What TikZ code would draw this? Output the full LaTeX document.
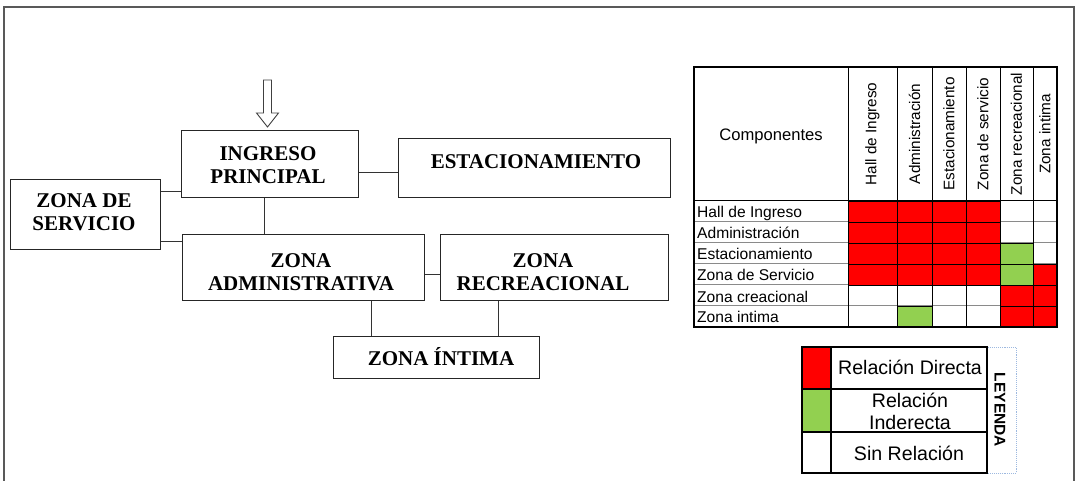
\documentclass[tikz,border=0pt]{standalone}
\usepackage{fontspec}
\setmainfont{Liberation Serif}
\newfontfamily\arialf{Liberation Sans}
\definecolor{relred}{HTML}{FF0000}
\definecolor{relgreen}{HTML}{92D050}
\definecolor{gridgray}{HTML}{8A8A8A}
\definecolor{legblue}{HTML}{9DB9E0}
\begin{document}
\begin{tikzpicture}[x=1pt,y=-1pt,
  box/.style={draw=black!85, line width=1pt, inner sep=0pt},
  lbl/.style={inner sep=0pt, align=center, font=\bfseries\fontsize{21}{23}\selectfont},
  link/.style={draw=black!80, line width=1pt},
  rowlbl/.style={inner sep=0pt, anchor=base west, font=\arialf\fontsize{15.6}{17}\selectfont},
  collbl/.style={inner sep=0pt, rotate=90, font=\arialf\fontsize{15.3}{17}\selectfont},
  leglbl/.style={inner sep=0pt, align=center, font=\arialf\fontsize{19.6}{22}\selectfont},
  cell/.style={draw=black, line width=0.8pt}
]
\useasboundingbox (0,0) rectangle (1077,481);
\fill[white] (0,0) rectangle (1077,481);
% outer frame
\draw[black!65, line width=1.2pt] (4,481) -- (4,7) -- (1074,7) -- (1074,481);

% ---------- flow diagram ----------
\node[box, minimum width=177, minimum height=67] (ingreso) at (269.5,164.5) {};
\node[lbl] (ingresoT) at (268,165.5) {INGRESO\\PRINCIPAL};
\node[box, minimum width=272, minimum height=59] (estac) at (534,168.5) {};
\node[lbl, anchor=base] (estacT) at (536,169) {ESTACIONAMIENTO};
\node[box, minimum width=150, minimum height=70] (servicio) at (85,215) {};
\node[lbl] (servicioT) at (84,212) {ZONA DE\\SERVICIO};
\node[box, minimum width=242, minimum height=66] (admin) at (303,268) {};
\node[lbl] (adminT) at (301,272) {ZONA\\ADMINISTRATIVA};
\node[box, minimum width=228, minimum height=66] (recre) at (554,268) {};
\node[lbl] (recreT) at (543,272) {ZONA\\RECREACIONAL};
\node[box, minimum width=206, minimum height=42] (intima) at (436,357) {};
\node[lbl, anchor=base] (intimaT) at (441,365) {ZONA ÍNTIMA};

% hollow entry arrow
\coordinate (arrtip) at (267.5,127);
\draw[black!75, line width=0.9pt, fill=white]
  (263.5,80) -- (271.5,80) -- (271.5,113) -- (278.5,113) -- (arrtip)
  -- (256.5,113) -- (263.5,113) -- cycle;

% connectors
\draw[link] (ingreso.east |- 0,173) -- (estac.west |- 0,173);
\draw[link] (servicio.east |- 0,192) -- (ingreso.west |- 0,192);
\draw[link] (servicio.east |- 0,242) -- (admin.west |- 0,242);
\draw[link] (ingreso.south -| 264,0) -- (admin.north -| 264,0);
\draw[link] (admin.east |- 0,275) -- (recre.west |- 0,275);
\draw[link] (admin.south -| 371,0) -- (intima.north -| 371,0);
\draw[link] (recre.south -| 498,0) -- (intima.north -| 498,0);

% ---------- relation matrix ----------
\def\colx{{694,848,897,932,966,1000,1033,1057}}
% horizontal grid (gray)
\foreach \r in {1,...,5} {
  \draw[gridgray, line width=1pt] (694,201+21*\r) -- (1057,201+21*\r);
}
% coloured cells: row, col, colour
\foreach \r/\c/\col in {
  0/1/relred,0/2/relred,0/3/relred,0/4/relred,
  1/1/relred,1/2/relred,1/3/relred,1/4/relred,
  2/1/relred,2/2/relred,2/3/relred,2/4/relred,2/5/relgreen,
  3/1/relred,3/2/relred,3/3/relred,3/4/relred,3/5/relgreen,3/6/relred,
  4/5/relred,4/6/relred,
  5/2/relgreen,5/5/relred,5/6/relred} {
  \pgfmathsetmacro{\xa}{\colx[\c]}
  \pgfmathsetmacro{\xb}{\colx[\c+1]}
  \fill[\col] (\xa,201+21*\r) rectangle (\xb,222+21*\r);
  \draw[cell] (\xa,201+21*\r) rectangle (\xb,222+21*\r);
}
% vertical lines
\foreach \x in {848,897,932,966,1000,1033} {
  \draw[black, line width=1pt] (\x,67) -- (\x,327);
}
\draw[black, line width=1pt] (694,201) -- (1057,201);
\draw[black, line width=1.6pt] (694,67) rectangle (1057,327);

\node[inner sep=0pt, font=\arialf\fontsize{16.6}{18}\selectfont] (comp) at (771,136) {Componentes};
\node[collbl] (h1) at (872.5,134) {Hall de Ingreso};
\node[collbl] (h2) at (914.5,134) {Administración};
\node[collbl] (h3) at (949,134) {Estacionamiento};
\node[collbl] (h4) at (983,134) {Zona de servicio};
\node[collbl] (h5) at (1016.5,134) {Zona recreacional};
\node[collbl] (h6) at (1045,134) {Zona intima};

\node[rowlbl] (r1) at (697,218) {Hall de Ingreso};
\node[rowlbl] (r2) at (697,239) {Administración};
\node[rowlbl] (r3) at (697,260) {Estacionamiento};
\node[rowlbl] (r4) at (697,281) {Zona de Servicio};
\node[rowlbl] (r5) at (697,302) {Zona creacional};
\node[rowlbl] (r6) at (697,323) {Zona intima};

% ---------- legend ----------
\draw[legblue, line width=0.9pt, densely dotted] (987,347) rectangle (1016,473);
\fill[relred] (802,347) rectangle (831,389);
\fill[relgreen] (802,389) rectangle (831,432);
\draw[black, line width=1.2pt] (802,347) rectangle (987,473);
\draw[black, line width=1.2pt] (831,347) -- (831,473);
\draw[black, line width=1.2pt] (802,389) -- (987,389);
\draw[black, line width=1.2pt] (802,432) -- (987,432);
\node[leglbl, anchor=base] (l1) at (910,374) {Relación Directa};
\node[leglbl, anchor=base] (l2a) at (910,407) {Relación};
\node[leglbl, anchor=base] (l2b) at (910,429) {Inderecta};
\node[leglbl, anchor=base] (l3) at (909,460) {Sin Relación};
\node[inner sep=0pt, rotate=-90, font=\arialf\bfseries\fontsize{15.5}{17}\selectfont] (ley) at (1000,410) {LEYENDA};
\end{tikzpicture}
\end{document}
